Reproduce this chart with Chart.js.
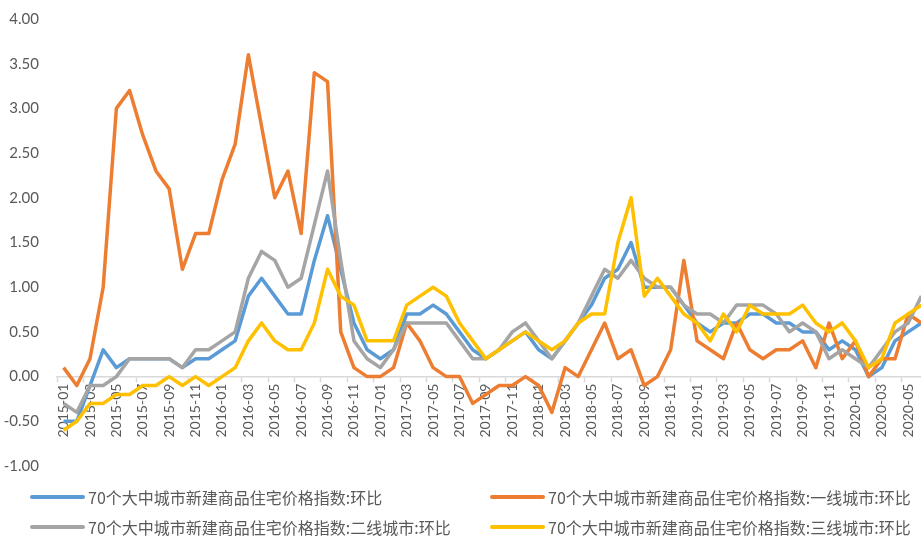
<!DOCTYPE html>
<html>
<head>
<meta charset="utf-8">
<title>70个大中城市新建商品住宅价格指数</title>
<script src="https://cdn.jsdelivr.net/npm/chart.js@4.4.0/dist/chart.umd.min.js"></script>
<style>
	html, body { margin: 0; padding: 0; background: #fff; overflow: hidden; }
	#wrap { position: relative; width: 945px; height: 537px; }
	#box { position: absolute; left: 0; top: 0; width: 945px; height: 485px; }
	#legend { position: absolute; left: 30px; top: 482px; display: grid; grid-template-columns: 460px auto;
		font-family: "Noto Sans CJK SC", sans-serif; font-size: 16px; color: #595959; }
	.item { height: 30px; display: flex; align-items: center; white-space: nowrap; }
	.item i { display: inline-block; width: 55px; height: 4px; margin-right: 3px; border-radius: 2px; }
</style>
</head>
<body>
<div id="wrap">
	<div id="box"><canvas id="myChart"></canvas></div>
	<div id="legend"></div>
</div>
<script>
// месяцы 2015-01 .. 2020-06
const months = [
	'2015-01','2015-02','2015-03','2015-04','2015-05','2015-06','2015-07','2015-08','2015-09','2015-10','2015-11','2015-12',
	'2016-01','2016-02','2016-03','2016-04','2016-05','2016-06','2016-07','2016-08','2016-09','2016-10','2016-11','2016-12',
	'2017-01','2017-02','2017-03','2017-04','2017-05','2017-06','2017-07','2017-08','2017-09','2017-10','2017-11','2017-12',
	'2018-01','2018-02','2018-03','2018-04','2018-05','2018-06','2018-07','2018-08','2018-09','2018-10','2018-11','2018-12',
	'2019-01','2019-02','2019-03','2019-04','2019-05','2019-06','2019-07','2019-08','2019-09','2019-10','2019-11','2019-12',
	'2020-01','2020-02','2020-03','2020-04','2020-05','2020-06'
];

const total = [
	-0.5,-0.5,-0.1,0.3,0.1,0.2,0.2,0.2,0.2,0.1,0.2,0.2,
	0.3,0.4,0.9,1.1,0.9,0.7,0.7,1.3,1.8,1.2,0.6,0.3,
	0.2,0.3,0.7,0.7,0.8,0.7,0.5,0.3,0.2,0.3,0.4,0.5,
	0.3,0.2,0.4,0.6,0.8,1.1,1.2,1.5,1.0,1.0,1.0,0.8,
	0.6,0.5,0.6,0.6,0.7,0.7,0.6,0.6,0.5,0.5,0.3,0.4,
	0.3,0.0,0.1,0.4,0.5,0.6
];
const tier1 = [
	0.1,-0.1,0.2,1.0,3.0,3.2,2.7,2.3,2.1,1.2,1.6,1.6,
	2.2,2.6,3.6,2.8,2.0,2.3,1.6,3.4,3.3,0.5,0.1,0.0,
	0.0,0.1,0.6,0.4,0.1,0.0,0.0,-0.3,-0.2,-0.1,-0.1,0.0,
	-0.1,-0.4,0.1,0.0,0.3,0.6,0.2,0.3,-0.1,0.0,0.3,1.3,
	0.4,0.3,0.2,0.6,0.3,0.2,0.3,0.3,0.4,0.1,0.6,0.2,
	0.4,0.0,0.2,0.2,0.7,0.6
];
const tier2 = [
	-0.3,-0.4,-0.1,-0.1,0.0,0.2,0.2,0.2,0.2,0.1,0.3,0.3,
	0.4,0.5,1.1,1.4,1.3,1.0,1.1,1.7,2.3,1.3,0.4,0.2,
	0.1,0.3,0.6,0.6,0.6,0.6,0.4,0.2,0.2,0.3,0.5,0.6,
	0.4,0.2,0.4,0.6,0.9,1.2,1.1,1.3,1.1,1.0,1.0,0.8,
	0.7,0.7,0.6,0.8,0.8,0.8,0.7,0.5,0.6,0.5,0.2,0.3,
	0.2,0.1,0.3,0.5,0.6,0.9
];
const tier3 = [
	-0.6,-0.5,-0.3,-0.3,-0.2,-0.2,-0.1,-0.1,0.0,-0.1,0.0,-0.1,
	0.0,0.1,0.4,0.6,0.4,0.3,0.3,0.6,1.2,0.9,0.8,0.4,
	0.4,0.4,0.8,0.9,1.0,0.9,0.6,0.4,0.2,0.3,0.4,0.5,
	0.4,0.3,0.4,0.6,0.7,0.7,1.5,2.0,0.9,1.1,0.9,0.7,
	0.6,0.4,0.7,0.5,0.8,0.7,0.7,0.7,0.8,0.6,0.5,0.6,
	0.4,0.1,0.2,0.6,0.7,0.8
];

const names = [
	'70个大中城市新建商品住宅价格指数:环比',
	'70个大中城市新建商品住宅价格指数:一线城市:环比',
	'70个大中城市新建商品住宅价格指数:二线城市:环比',
	'70个大中城市新建商品住宅价格指数:三线城市:环比'
];
const colors = ['#5B9BD5', '#ED7D31', '#A5A5A5', '#FFC000'];
const series = [total, tier1, tier2, tier3];

Chart.defaults.font.family = 'Lato, sans-serif';
Chart.defaults.color = '#595959';

const ctx = document.getElementById('myChart');

new Chart(ctx, {
	type: 'line',
	data: {
		labels: months,
		datasets: series.map(function (d, i) {
			return {
				label: names[i],
				data: d,
				borderColor: colors[i],
				backgroundColor: colors[i],
				borderWidth: 3.5,
				pointRadius: 0,
				tension: 0,
				borderJoinStyle: 'round',
				order: 3 - i // excel: last series on top
			};
		})
	},
	options: {
		responsive: true,
		maintainAspectRatio: false,
		animation: false,
		layout: { padding: { top: 17, right: 17, bottom: 9, left: 0 } },
		plugins: {
			legend: { display: false },
			tooltip: { enabled: false }
		},
		scales: {
			x: {
				position: { y: 0 },
				offset: true,
				grid: {
					display: true,
					offset: true,
					drawOnChartArea: false,
					drawTicks: true,
					tickLength: 5,
					tickWidth: 1.5,
					tickColor: function (c) { return c.index % 2 === 0 ? '#d9d9d9' : 'rgba(0,0,0,0)'; }
				},
				border: { display: true, color: '#d9d9d9', width: 1.5 },
				ticks: {
					autoSkip: false,
					minRotation: 90,
					maxRotation: 90,
					padding: 2,
					font: { size: 14 },
					callback: function (v, i) { return i % 2 === 0 ? this.getLabelForValue(v) : ''; }
				},
				afterFit: function (scale) { scale.height = 0; }
			},
			y: {
				min: -1,
				max: 4,
				grid: { display: false },
				border: { display: false },
				ticks: {
					stepSize: 0.5,
					padding: 10,
					font: { size: 15 },
					callback: function (v) { return v.toFixed(2); }
				},
				afterFit: function (scale) { scale.width = 57; }
			}
		}
	}
});

// легенда в две колонки
const legend = document.getElementById('legend');
names.forEach(function (n, i) {
	const el = document.createElement('div');
	el.className = 'item';
	el.innerHTML = '<i style="background:' + colors[i] + '"></i><span>' + n + '</span>';
	legend.appendChild(el);
});
</script>
</body>
</html>
